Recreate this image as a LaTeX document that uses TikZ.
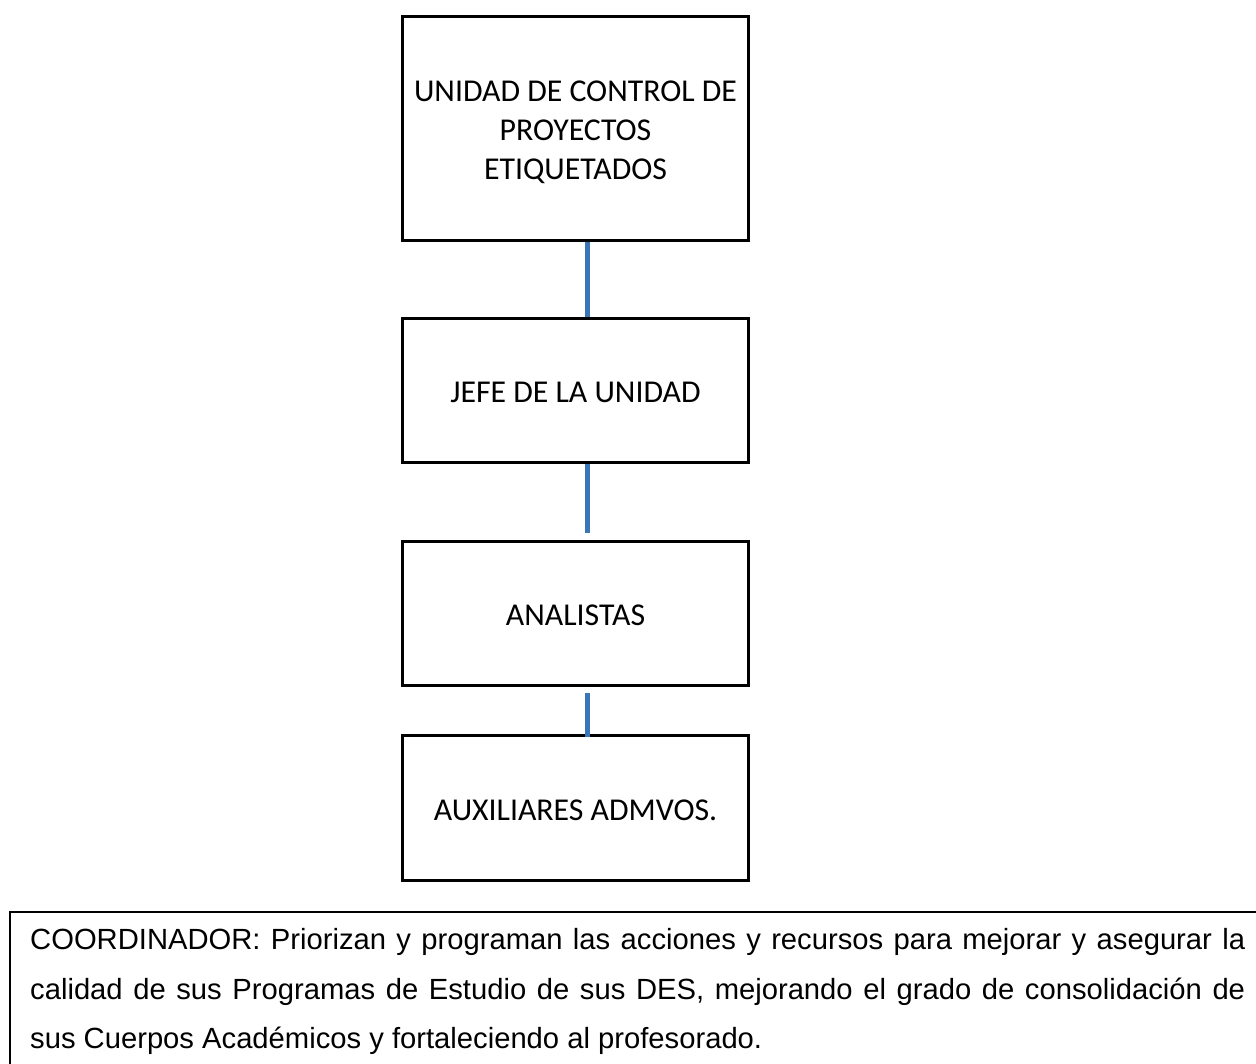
\documentclass[tikz,border=0pt]{standalone}
\usepackage{fontspec}
\setmainfont{Liberation Sans}
\newfontfamily\boxfont{Carlito}
\definecolor{linkblue}{HTML}{3A75B8}

\begin{document}
\begin{tikzpicture}[x=1pt,y=-1pt,
  unitbox/.style={draw, line width=3pt, minimum width=346pt, inner sep=0pt,
    align=center, font=\boxfont\fontsize{31.8}{39}\selectfont},
  oneline/.style={text height=24.5pt, text depth=0pt},
  link/.style={draw=linkblue, line width=4.5pt},
  notebox/.style={draw, line width=2pt, inner sep=0pt}]
\clip (0,0) rectangle (1256,1064);

% organisational chart
\node[unitbox, minimum height=224pt] (uc) at (575.5,128.5)
  {\rule{0pt}{28.5pt}UNIDAD DE CONTROL DE\\PROYECTOS\\ETIQUETADOS};
\node[unitbox, oneline, minimum height=144pt] (jefe) at (575.5,390.5) {JEFE DE LA UNIDAD};
\node[unitbox, oneline, minimum height=144pt] (anal) at (575.5,613.5) {ANALISTAS};
\node[unitbox, oneline, minimum height=145pt] (aux) at (575.5,808) {AUXILIARES ADMVOS.};

\draw[link] ([xshift=12pt]uc.south) -- ([xshift=12pt]jefe.north);
\draw[link, shorten >=7pt] ([xshift=12pt]jefe.south) -- ([xshift=12pt]anal.north);
\draw[link, shorten <=6pt, shorten >=-3pt] ([xshift=12pt]anal.south) -- ([xshift=12pt]aux.north);

% description frame, running off the page
\node[notebox, anchor=north west, minimum width=1300pt, minimum height=200pt] (frame) at (9,911) {};
\node[anchor=base west, text width=1215pt, align=justify, inner sep=0pt,
  font=\fontsize{29.2}{49.7}\selectfont] (desc) at (30,949.5)
  {\hyphenpenalty=10000 \exhyphenpenalty=10000
   COORDINADOR: Priorizan y programan las acciones y recursos para mejorar y asegurar la\linebreak
   calidad de sus Programas de Estudio de sus DES, mejorando el grado de consolidación de\linebreak
   sus Cuerpos Académicos y fortaleciendo al profesorado.};
\end{tikzpicture}
\end{document}
